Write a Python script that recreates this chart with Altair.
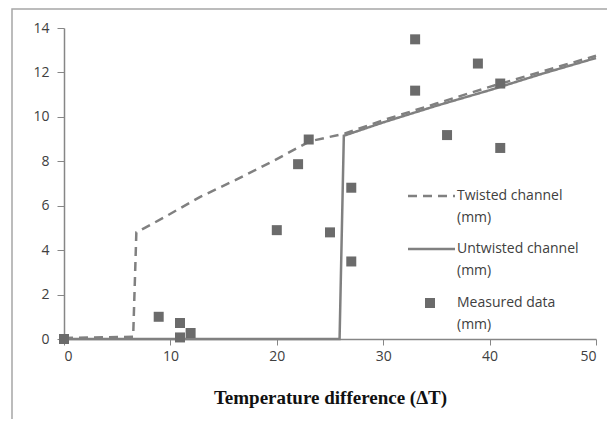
import altair as alt
import pandas as pd

# Twisted channel model (dashed)
tw_x = [0, 6.5, 6.8, 7.6, 9.5, 12.8, 16.1, 19.8, 23.1, 26.4, 30, 35, 40, 45, 50]
tw_y = [0.05, 0.1, 4.8, 5.0, 5.5, 6.4, 7.15, 8.05, 8.9, 9.25, 9.85, 10.6, 11.35, 12.05, 12.75]

# Untwisted channel model (solid)
ut_x = [0, 25.9, 26.3, 30, 35, 40, 45, 50]
ut_y = [0, 0, 9.15, 9.75, 10.5, 11.2, 11.95, 12.65]

# Measured data
ms_x = [0, 8.9, 10.9, 10.9, 11.9, 20.0, 22.0, 23.0, 25.0, 27.0, 27.0, 33.0, 33.0, 36.0, 38.9, 41.0, 41.0]
ms_y = [0, 1.0, 0.72, 0.07, 0.27, 4.9, 7.87, 8.98, 4.8, 6.81, 3.49, 13.49, 11.18, 9.18, 12.4, 11.5, 8.6]

series_names = ["Twisted channel", "Untwisted channel", "Measured data"]
x_ticks = [0, 10, 20, 30, 40, 50]
y_ticks = [0, 2, 4, 6, 8, 10, 12, 14]

lines_df = pd.concat([
    pd.DataFrame({"x": tw_x, "y": tw_y, "series": series_names[0], "order": range(len(tw_x))}),
    pd.DataFrame({"x": ut_x, "y": ut_y, "series": series_names[1], "order": range(len(ut_x))}),
])
pts_df = pd.DataFrame({"x": ms_x, "y": ms_y})

LINE_COLOR = "#808080"
PT_COLOR = "#6b6b6b"
TXT = "#404040"
FONT = "Open Sans"

xenc = alt.X("x:Q", scale=alt.Scale(domain=[0, 50], nice=False),
             axis=alt.Axis(values=x_ticks, title="Temperature difference (\u0394T)",
                           tickSize=6, labelPadding=4, titlePadding=25))
yenc = alt.Y("y:Q", scale=alt.Scale(domain=[0, 14], nice=False),
             axis=alt.Axis(values=y_ticks, title=None, tickSize=7, labelPadding=8))

lines = alt.Chart(lines_df).mark_line(color=LINE_COLOR, strokeWidth=2.5).encode(
    x=xenc, y=yenc, order="order:Q",
    detail="series:N",
    strokeDash=alt.StrokeDash("series:N",
                              scale=alt.Scale(domain=series_names[:2], range=[[9, 6], [1, 0]]),
                              legend=None),
)

points = alt.Chart(pts_df).mark_square(color=PT_COLOR, opacity=1, size=100).encode(
    x="x:Q", y="y:Q"
)

one = alt.Data(values=[{}])

def ltext(txt, y):
    return alt.Chart(one).mark_text(text=txt, align="left", baseline="middle",
                                    font=FONT, fontSize=14, color=TXT).encode(
        x=alt.value(393), y=alt.value(y))

leg_dash = alt.Chart(one).mark_rule(color=LINE_COLOR, strokeWidth=2.5, strokeDash=[9, 6]).encode(
    x=alt.value(344), x2=alt.value(391), y=alt.value(168))
leg_solid = alt.Chart(one).mark_rule(color=LINE_COLOR, strokeWidth=2.5).encode(
    x=alt.value(344), x2=alt.value(391), y=alt.value(221))
leg_sq = alt.Chart(one).mark_square(color=PT_COLOR, opacity=1, size=100).encode(
    x=alt.value(366), y=alt.value(275))

border = alt.Chart(one).mark_rect(fillOpacity=0, stroke="#a6a6a6", strokeWidth=1.5).encode(
    x=alt.value(-52), x2=alt.value(600), y=alt.value(-19), y2=alt.value(430))

chart = alt.layer(
    border, lines, points,
    leg_dash, leg_solid, leg_sq,
    ltext(series_names[0], 168), ltext("(mm)", 190),
    ltext(series_names[1], 221), ltext("(mm)", 243),
    ltext(series_names[2], 275), ltext("(mm)", 297),
).properties(
    width=532, height=311,
    autosize=alt.AutoSizeParams(type="none"),
    padding={"left": 56, "top": 20, "right": 11, "bottom": 80},
).configure_view(stroke=None).configure_axis(
    grid=False, domainColor="#868686", tickColor="#868686", domainWidth=1.5,
    labelColor=TXT, labelFont=FONT, labelFontSize=14,
    titleFont="Liberation Serif", titleFontSize=19, titleFontWeight="bold", titleColor="#111111",
)

chart.save("out.html", embed_options={"renderer": "svg", "actions": False})
